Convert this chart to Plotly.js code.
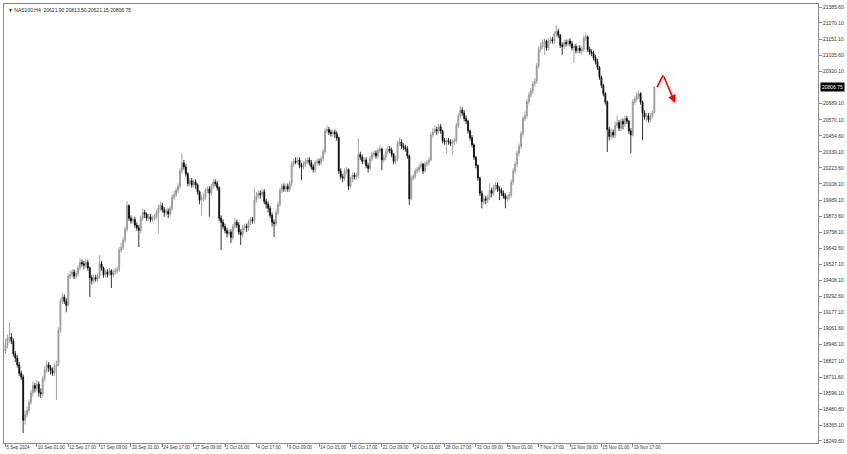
<!DOCTYPE html>
<html>
<head>
<meta charset="utf-8">
<script src="https://cdn.plot.ly/plotly-3.0.1.min.js"></script>
<style>html,body{margin:0;padding:0;background:#fff;}#chart{width:847px;height:454px;}</style>
</head>
<body>
<div id="chart"></div>
<script>
const symbolTitle = "▼ NAS100,H4  20621.90 20813.50 20621.15 20806.75";

const open = [18900,18943,18990,19001,18970,18880,18850,18800,18740,18712,
18400,18440,18470,18530,18596,18650,18630,18660,18600,18590,
18700,18760,18800,18780,18760,18740,18790,18800,19050,19260,
19290,19260,19230,19440,19450,19470,19440,19460,19500,19540,
19530,19520,19540,19500,19430,19410,19430,19420,19440,19530,
19500,19450,19470,19455,19480,19450,19470,19480,19490,19630,
19650,19700,19780,19950,19860,19840,19850,19810,19790,19770,
19860,19900,19890,19860,19870,19850,19860,19870,19900,19930,
19950,19920,19900,19910,19890,19930,20010,20030,20060,20090,
20200,20260,20230,20180,20110,20130,20100,20120,20100,20050,
19990,20000,20010,20060,20070,20040,20090,20120,20110,20080,
19860,19830,19800,19770,19750,19760,19720,19800,19830,19810,
19760,19740,19790,19800,19790,19830,19850,19840,19990,20020,
20040,20030,20050,19980,19960,19930,19880,19830,19820,19900,
19960,20060,20090,20070,20090,20070,20110,20250,20270,20265,
20280,20240,20230,20250,20270,20280,20260,20230,20210,20260,
20270,20260,20290,20340,20490,20500,20480,20470,20480,20470,
20440,20200,20160,20150,20200,20210,20090,20140,20170,20160,
20170,20320,20300,20270,20280,20240,20220,20290,20320,20330,
20310,20350,20360,20280,20300,20340,20360,20350,20320,20270,
20290,20400,20410,20380,20370,20360,20310,20000,20150,20160,
20200,20210,20230,20250,20200,20250,20260,20280,20460,20480,
20500,20490,20520,20490,20420,20410,20420,20410,20400,20410,
20420,20530,20600,20640,20620,20580,20560,20490,20440,20390,
20300,20240,20150,20040,19980,20000,19990,20010,20060,20040,
20080,20100,20070,20060,20040,20020,20000,20010,20030,20120,
20200,20250,20330,20380,20470,20580,20600,20700,20750,20780,
20830,20850,20960,21080,21100,21130,21140,21090,21140,21150,
21140,21190,21210,21180,21110,21100,21130,21120,21140,21120,
21090,21100,21070,21090,21070,21080,21160,21170,21080,21060,
21050,21020,20990,20950,20880,20820,20760,20700,20500,20450,
20480,20460,20530,20550,20510,20560,20540,20580,20560,20490,
20460,20700,20720,20740,20760,20700,20620,20590,20600,20570,
20600,20621.9];

const high = [18990,19020,19110,19030,18990,18900,18870,18820,18760,18730,
18470,18500,18550,18620,18680,18670,18690,18680,18630,18720,
18790,18830,18820,18800,18780,18810,18830,19070,19280,19320,
19310,19280,19460,19480,19490,19490,19480,19520,19570,19560,
19550,19560,19560,19510,19450,19450,19450,19460,19593,19550,
19510,19490,19490,19500,19490,19490,19500,19510,19650,19680,
19720,19800,19980,19960,19880,19870,19870,19830,19810,19880,
19930,19920,19900,19890,19890,19880,19890,19920,19960,19980,
19970,19940,19930,19930,19950,20030,20060,20080,20110,20220,
20331,20280,20250,20190,20150,20150,20140,20140,20110,20060,
20030,20040,20080,20090,20090,20110,20140,20140,20130,20090,
19880,19850,19820,19790,19780,19780,19820,19860,19850,19830,
19780,19810,19820,19820,19850,19870,19870,20078,20050,20060,
20060,20070,20070,20000,19980,19950,19900,19850,19920,19980,
20080,20110,20110,20110,20110,20130,20270,20290,20300,20300,
20300,20260,20270,20290,20300,20300,20280,20250,20280,20290,
20290,20310,20360,20510,20530,20520,20500,20500,20500,20490,
20450,20220,20180,20220,20230,20220,20160,20190,20190,20190,
20439,20340,20320,20300,20300,20260,20310,20340,20350,20350,
20370,20390,20370,20320,20360,20380,20380,20370,20330,20310,
20420,20440,20430,20400,20390,20380,20320,20170,20180,20220,
20230,20250,20270,20260,20270,20280,20300,20480,20510,20530,
20520,20540,20540,20500,20440,20440,20440,20430,20430,20440,
20550,20620,20670,20660,20640,20600,20570,20500,20460,20400,
20310,20250,20160,20060,20030,20020,20030,20110,20080,20100,
20120,20120,20090,20080,20060,20040,20030,20050,20140,20220,
20270,20350,20400,20490,20600,20630,20720,20770,20800,20850,
20870,20980,21100,21130,21150,21160,21150,21160,21170,21170,
21210,21255,21230,21190,21130,21150,21150,21160,21160,21140,
21120,21120,21110,21110,21100,21180,21200,21180,21100,21080,
21070,21040,21010,20960,20890,20830,20770,20710,20520,20510,
20500,20560,20600,20570,20580,20580,20600,20600,20570,20510,
20720,20740,20770,20780,20770,20710,20640,20620,20620,20620,
20640,20813.5];

const low = [18880,18920,18960,18950,18860,18820,18780,18720,18690,18307,
18370,18420,18450,18510,18570,18600,18610,18570,18560,18570,
18680,18740,18750,18730,18720,18720,18546,18790,19030,19240,
19240,19180,19220,19420,19430,19420,19420,19440,19480,19510,
19490,19500,19480,19290,19380,19390,19400,19400,19420,19480,
19430,19430,19430,19440,19355,19430,19450,19460,19470,19610,
19630,19680,19760,19840,19820,19820,19790,19770,19651,19750,
19840,19860,19840,19840,19830,19830,19840,19850,19750,19910,
19900,19870,19880,19860,19870,19910,19990,20010,20040,20070,
20180,20210,20160,20090,20090,20080,20080,20070,20030,19960,
19880,19980,19990,20040,19870,20020,20070,20090,20060,19840,
19630,19780,19750,19720,19730,19680,19700,19780,19790,19740,
19666,19720,19770,19760,19770,19810,19820,19820,19970,20000,
20000,20010,19960,19930,19900,19860,19800,19723,19800,19880,
19940,20040,20050,20050,20050,20050,20090,20230,20250,20250,
20220,20135,20210,20230,20250,20240,20210,20190,20190,20240,
20240,20240,20270,20320,20470,20460,20450,20450,20440,20420,
20180,20140,20120,20130,20180,20063,20070,20120,20140,20140,
20150,20280,20250,20250,20220,20190,20200,20270,20300,20290,
20290,20330,20208,20260,20280,20320,20330,20300,20250,20250,
20270,20380,20360,20350,20340,20290,19955,19990,20130,20140,
20180,20190,20210,20180,20190,20230,20240,20270,20440,20470,
20460,20470,20470,20400,20390,20330,20390,20380,20316,20390,
20400,20510,20580,20600,20560,20540,20470,20420,20370,20280,
20220,20130,20020,19930,19960,19960,19970,19990,20010,20020,
20060,20050,19990,20020,20000,19930,19980,19990,20010,20100,
20180,20230,20310,20360,20450,20560,20580,20680,20730,20760,
20810,20830,20940,21060,21080,21039,21070,21070,21120,21120,
21120,21170,21160,21090,21040,21080,21100,21100,21100,21070,
20981,21050,21050,21050,21040,21060,21140,21060,21040,21030,
21000,20970,20930,20860,20800,20740,20680,20338,20420,20430,
20440,20440,20510,20490,20490,20500,20520,20540,20470,20330,
20450,20680,20700,20720,20680,20425,20570,20560,20550,20550,
20580,20621.15];

const close = [18943,18990,19001,18970,18880,18850,18800,18740,18712,18400,
18440,18470,18530,18596,18650,18630,18660,18600,18590,18700,
18760,18800,18780,18760,18740,18790,18800,19050,19260,19290,
19260,19230,19440,19450,19470,19440,19460,19500,19540,19530,
19520,19540,19500,19430,19410,19430,19420,19440,19530,19500,
19450,19470,19455,19480,19450,19470,19480,19490,19630,19650,
19700,19780,19950,19860,19840,19850,19810,19790,19770,19860,
19900,19890,19860,19870,19850,19860,19870,19900,19930,19950,
19920,19900,19910,19890,19930,20010,20030,20060,20090,20200,
20260,20230,20180,20110,20130,20100,20120,20100,20050,19990,
20000,20010,20060,20070,20040,20090,20120,20110,20080,19860,
19830,19800,19770,19750,19760,19720,19800,19830,19810,19760,
19740,19790,19800,19790,19830,19850,19840,19990,20020,20040,
20030,20050,19980,19960,19930,19880,19830,19820,19900,19960,
20060,20090,20070,20090,20070,20110,20250,20270,20265,20280,
20240,20230,20250,20270,20280,20260,20230,20210,20260,20270,
20260,20290,20340,20490,20500,20480,20470,20480,20470,20440,
20200,20160,20150,20200,20210,20090,20140,20170,20160,20170,
20320,20300,20270,20280,20240,20220,20290,20320,20330,20310,
20350,20360,20280,20300,20340,20360,20350,20320,20270,20290,
20400,20410,20380,20370,20360,20310,20000,20150,20160,20200,
20210,20230,20250,20200,20250,20260,20280,20460,20480,20500,
20490,20520,20490,20420,20410,20420,20410,20400,20410,20420,
20530,20600,20640,20620,20580,20560,20490,20440,20390,20300,
20240,20150,20040,19980,20000,19990,20010,20060,20040,20080,
20100,20070,20060,20040,20020,20000,20010,20030,20120,20200,
20250,20330,20380,20470,20580,20600,20700,20750,20780,20830,
20850,20960,21080,21100,21130,21140,21090,21140,21150,21140,
21190,21210,21180,21110,21100,21130,21120,21140,21120,21090,
21100,21070,21090,21070,21080,21160,21170,21080,21060,21050,
21020,20990,20950,20880,20820,20760,20700,20500,20450,20480,
20460,20530,20550,20510,20560,20540,20580,20560,20490,20460,
20700,20720,20740,20760,20700,20620,20590,20600,20570,20600,
20622,20806.75];

// y-axis price labels
const priceTicks = [21385.60,21270.10,21151.10,21035.60,20920.10,20689.10,20570.10,20454.60,
20339.10,20223.60,20108.10,19989.10,19873.60,19758.10,19642.60,19527.10,19408.10,19292.60,
19177.10,19061.60,18946.10,18827.10,18711.60,18596.10,18480.60,18365.10,18249.60];
const lastPrice = 20806.75;

// x-axis time labels (bar index, label)
const timeTickIdx = [0,16,32,48,64,80,96,112,128,144,160,176,192,208,224,240,256,272,288,304,320];
const timeTickText = ["5 Sep 2024","10 Sep 01:00","12 Sep 17:00","17 Sep 09:00","20 Sep 01:00",
"24 Sep 17:00","27 Sep 09:00","2 Oct 01:00","4 Oct 17:00","9 Oct 09:00","14 Oct 01:00",
"16 Oct 17:00","21 Oct 09:00","24 Oct 01:00","28 Oct 17:00","31 Oct 09:00","5 Nov 01:00",
"7 Nov 17:00","12 Nov 09:00","15 Nov 01:00","19 Nov 17:00"];

// projected red arrow path (bar index, price)
const arrowIdx = [332.4, 335.5, 341.6];
const arrowPrice = [20806, 20894, 20692];

const xs = close.map((_, i) => i);

const candles = {
  type: 'candlestick',
  x: xs, open: open, high: high, low: low, close: close,
  increasing: {line: {color: '#909090', width: 0.8}, fillcolor: '#b4b4b4'},
  decreasing: {line: {color: '#000000', width: 0.8}, fillcolor: '#000000'},
  whiskerwidth: 0,
  hoverinfo: 'skip',
  showlegend: false
};

const arrowLine = {
  type: 'scatter', mode: 'lines',
  x: arrowIdx.slice(0, 2), y: arrowPrice.slice(0, 2),
  line: {color: '#ff0000', width: 1.6},
  hoverinfo: 'skip', showlegend: false
};

const layout = {
  width: 847, height: 454,
  margin: {l: 4, r: 29, t: 4, b: 11},
  paper_bgcolor: '#ffffff',
  plot_bgcolor: '#ffffff',
  showlegend: false,
  xaxis: {
    range: [-0.77, 414.5],
    rangeslider: {visible: false},
    showgrid: false, zeroline: false,
    showline: true, mirror: true, linecolor: '#8a8a8a', linewidth: 1,
    tickmode: 'array', tickvals: timeTickIdx, ticktext: timeTickText,
    ticks: 'outside', ticklen: 3, tickcolor: '#8a8a8a',
    ticklabelposition: 'outside right',
    tickfont: {family: 'Liberation Sans, Arial, sans-serif', size: 4.5, color: '#333'},
    tickangle: 0,
    automargin: false,
    fixedrange: true
  },
  yaxis: {
    side: 'right',
    range: [18235.1, 21407.3],
    showgrid: false, zeroline: false,
    showline: true, mirror: true, linecolor: '#8a8a8a', linewidth: 1,
    tickmode: 'array', tickvals: priceTicks,
    ticktext: priceTicks.map(v => v.toFixed(2)),
    ticks: 'outside', ticklen: 3, tickcolor: '#8a8a8a',
    tickfont: {family: 'Liberation Sans, Arial, sans-serif', size: 5, color: '#333'},
    automargin: false,
    fixedrange: true
  },
  annotations: [
    {
      xref: 'paper', yref: 'paper', x: 0.003, y: 0.997,
      xanchor: 'left', yanchor: 'top', showarrow: false,
      text: symbolTitle,
      font: {family: 'Liberation Sans, Arial, sans-serif', size: 5, color: '#222'}
    },
    {
      xref: 'paper', yref: 'y', x: 1, y: lastPrice,
      xanchor: 'left', yanchor: 'middle', xshift: 2, showarrow: false,
      text: lastPrice.toFixed(2), bgcolor: '#000000', borderpad: 1,
      font: {family: 'Liberation Sans, Arial, sans-serif', size: 5, color: '#ffffff'}
    },
    {
      xref: 'x', yref: 'y', axref: 'x', ayref: 'y',
      x: arrowIdx[2], y: arrowPrice[2], ax: arrowIdx[1], ay: arrowPrice[1],
      showarrow: true, arrowhead: 2, arrowsize: 1, arrowwidth: 1.6, arrowcolor: '#ff0000',
      text: ''
    }
  ]
};

Plotly.newPlot('chart', [candles, arrowLine], layout, {displayModeBar: false, staticPlot: true});
</script>
</body>
</html>
